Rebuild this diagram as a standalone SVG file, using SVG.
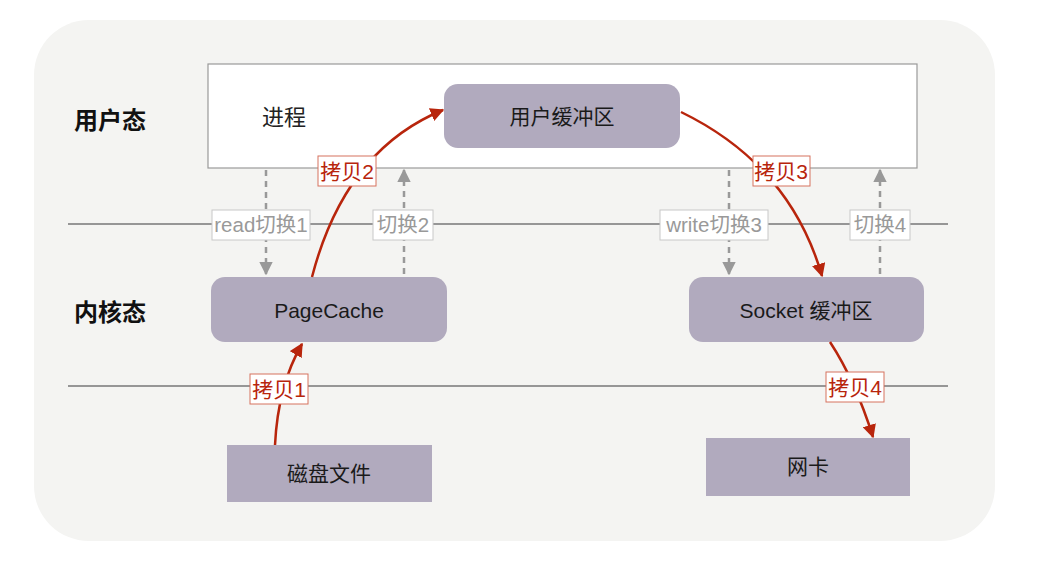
<svg xmlns="http://www.w3.org/2000/svg" width="1056" height="564" viewBox="0 0 1056 564">
<defs>
<style>
.t{font-family:"Liberation Sans","Noto Sans CJK SC",sans-serif;}
.node{fill:#b1aabe;}
.nt{font-size:21px;fill:#1a1a1a;text-anchor:middle;}
.side{font-size:24px;font-weight:bold;fill:#111;}
.dash{stroke:#999;stroke-width:2.5;stroke-dasharray:6,5;fill:none;}
.red{stroke:#b8250c;stroke-width:2.5;fill:none;}
.gbox{fill:#fff;stroke:#c8c8c8;stroke-width:1;}
.gl{font-size:20.5px;fill:#999;text-anchor:middle;}
.rbox{fill:#fff;stroke:#d6725f;stroke-width:1;}
.rl{font-size:21px;fill:#b8250c;text-anchor:middle;}
</style>
<marker id="ag" viewBox="0 0 10 10" refX="9" refY="5" markerWidth="5.5" markerHeight="5.5" orient="auto" markerUnits="strokeWidth"><path d="M0,0 L10,5 L0,10 z" fill="#999"/></marker>
<marker id="ar" viewBox="0 0 10 10" refX="9" refY="5" markerWidth="5.5" markerHeight="5.5" orient="auto" markerUnits="strokeWidth"><path d="M0,0 L10,5 L0,10 z" fill="#b8250c"/></marker>
</defs>
<rect x="34" y="20" width="961" height="521" rx="55" fill="#f4f4f2"/>
<g id="process"><rect x="208" y="64" width="709" height="104" fill="#fff" stroke="#999" stroke-width="1.2"/>
<text class="t" x="284" y="125" font-size="22" fill="#222" text-anchor="middle">进程</text></g>
<line x1="68" y1="224" x2="948" y2="224" stroke="#777" stroke-width="1.5"/>
<line x1="68" y1="386" x2="948" y2="386" stroke="#777" stroke-width="1.5"/>
<g id="label-user"><text class="t side" x="74" y="129">用户态</text></g>
<g id="label-kernel"><text class="t side" x="74" y="321">内核态</text></g>
<g id="userbuf"><rect class="node" x="444" y="84" width="236" height="64" rx="14"/><text class="t nt" x="562" y="124">用户缓冲区</text></g>
<g id="pagecache"><rect class="node" x="211" y="277" width="236" height="65" rx="14"/><text class="t nt" x="329" y="318">PageCache</text></g>
<g id="socketbuf"><rect class="node" x="689" y="277" width="235" height="65" rx="14"/><text class="t nt" x="806" y="318">Socket 缓冲区</text></g>
<g id="disk"><rect class="node" x="227" y="445" width="205" height="57"/><text class="t nt" x="329" y="481">磁盘文件</text></g>
<g id="nic"><rect class="node" x="706" y="438" width="204" height="58"/><text class="t nt" x="808" y="474">网卡</text></g>
<g id="connectors">
<path class="dash" d="M266,170 L266,274" marker-end="url(#ag)"/>
<path class="dash" d="M404,274 L404,170" marker-end="url(#ag)"/>
<path class="dash" d="M729,170 L729,274" marker-end="url(#ag)"/>
<path class="dash" d="M880,274 L880,170" marker-end="url(#ag)"/>
<path class="red" d="M275,445 Q278,385 302,344" marker-end="url(#ar)"/>
<path class="red" d="M312,277 Q345,150 443,110" marker-end="url(#ar)"/>
<path class="red" d="M681,112 Q790,165 822,276" marker-end="url(#ar)"/>
<path class="red" d="M830,342 Q855,380 873,437" marker-end="url(#ar)"/>
<rect class="gbox" x="212" y="210" width="98" height="30"/><text class="t gl" x="261" y="232">read切换1</text>
<rect class="gbox" x="373" y="210" width="60" height="30"/><text class="t gl" x="403" y="232">切换2</text>
<rect class="gbox" x="660" y="210" width="108" height="30"/><text class="t gl" x="714" y="232">write切换3</text>
<rect class="gbox" x="850" y="210" width="60" height="30"/><text class="t gl" x="880" y="232">切换4</text>
<rect class="rbox" x="250" y="374" width="58" height="30"/><text class="t rl" x="279" y="397">拷贝1</text>
<rect class="rbox" x="318" y="156" width="58" height="30"/><text class="t rl" x="347" y="179">拷贝2</text>
<rect class="rbox" x="753" y="156" width="57" height="30"/><text class="t rl" x="781" y="179">拷贝3</text>
<rect class="rbox" x="826" y="372" width="58" height="30"/><text class="t rl" x="855" y="395">拷贝4</text>
</g>
</svg>
